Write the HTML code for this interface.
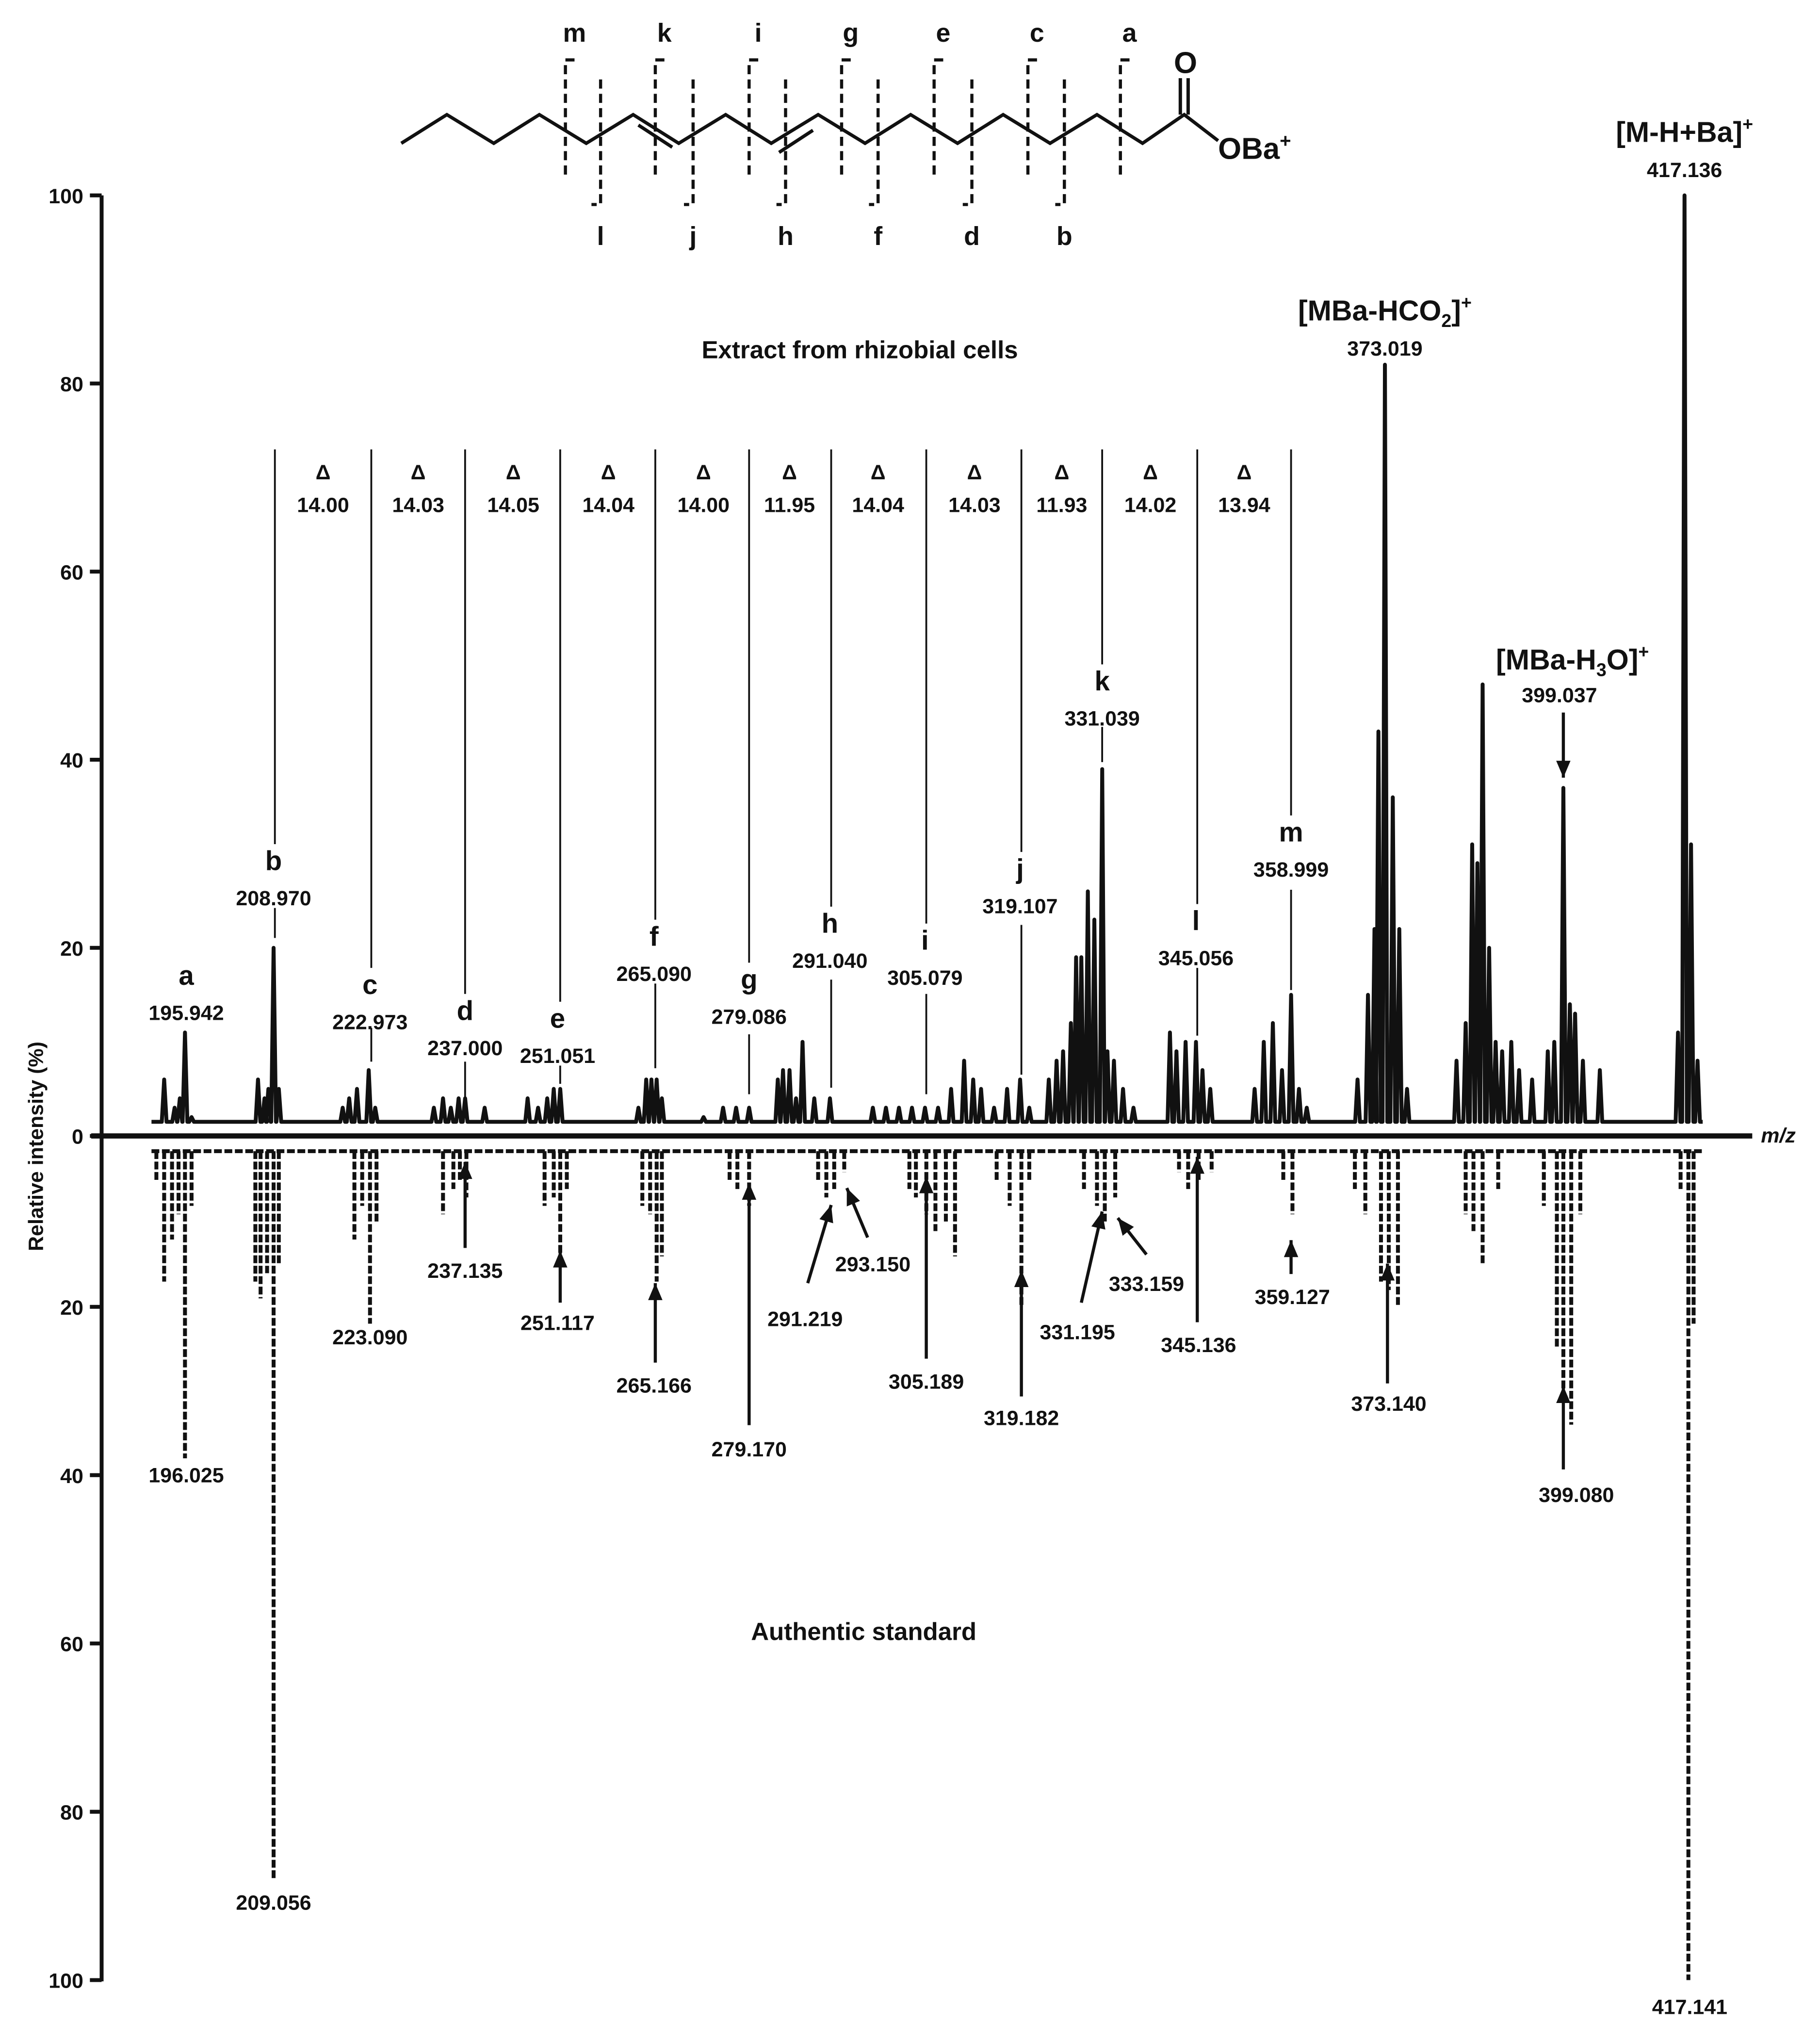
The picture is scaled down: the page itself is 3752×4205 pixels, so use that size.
<!DOCTYPE html>
<html><head><meta charset="utf-8"><style>
html,body{margin:0;padding:0;background:#fff}
svg{display:block}
text{font-family:"Liberation Sans",Arial,sans-serif;font-weight:bold;fill:#111}
</style></head><body>
<svg id="chart" xmlns="http://www.w3.org/2000/svg" width="3752" height="4205" viewBox="0 0 1397 1566" preserveAspectRatio="none">
<g id="structure" stroke="#111" fill="none" stroke-width="2.6">
<polyline points="308,110 343,88 379,110 414,88 450,110 486,88 521,110 557,88 592,110 628,88 664,110 699,88 735,110 770,88 806,110 842,88 877,110 909,88 935,108"/>
<line x1="490" y1="96" x2="516" y2="113"/>
<line x1="598" y1="117" x2="624" y2="100"/>
<line x1="906" y1="88" x2="906" y2="60"/>
<line x1="912" y1="88" x2="912" y2="60"/>
</g>
<text x="910" y="56" font-size="23" text-anchor="middle">O</text>
<text x="935" y="122" font-size="23">OBa<tspan font-size="15" dy="-9">+</tspan></text>
<g id="cleave"></g>

<g id="axes"></g>
<g id="topTrace"></g>
<g id="botTrace"></g>
<g id="ann"></g>

<text transform="translate(33,880) rotate(-90)" font-size="16" text-anchor="middle">Relative intensity (%)</text>
<text x="1365" y="877" font-size="16" font-style="italic" text-anchor="middle">m/z</text>
<text x="660" y="275" font-size="19" text-anchor="middle">Extract from rhizobial cells</text>
<text x="663" y="1259" font-size="19" text-anchor="middle">Authentic standard</text>
<text x="1063" y="246" font-size="22" text-anchor="middle">[MBa-HCO<tspan font-size="14" dy="5">2</tspan><tspan dy="-5">]</tspan><tspan font-size="14" dy="-9">+</tspan></text>
<text x="1207" y="514" font-size="22" text-anchor="middle">[MBa-H<tspan font-size="14" dy="5">3</tspan><tspan dy="-5">O]</tspan><tspan font-size="14" dy="-9">+</tspan></text>
<text x="1293" y="109" font-size="22" text-anchor="middle">[M-H+Ba]<tspan font-size="14" dy="-9">+</tspan></text>
</svg>
<script>
const topMz=[192.87,194.41,195.18,195.94,196.91,206.71,207.67,208.24,209.01,209.78,219.20,220.16,221.31,223.04,224.00,232.65,234.00,235.15,236.30,237.26,240.14,246.48,248.02,249.37,250.33,251.29,262.82,263.97,264.74,265.51,266.28,272.43,275.31,277.23,279.15,283.38,284.15,285.11,286.07,287.03,288.76,291.07,297.40,299.33,301.25,303.17,305.09,307.02,308.94,310.86,312.20,313.36,315.28,317.20,319.12,320.47,323.35,324.50,325.46,326.61,327.38,328.15,329.11,330.07,331.23,332.00,332.96,334.30,335.84,341.22,342.18,343.53,345.06,346.02,347.17,353.71,355.06,356.40,357.75,359.09,360.25,361.40,368.89,370.43,371.39,371.97,372.93,374.09,375.05,376.19,383.49,384.84,385.80,386.57,387.34,388.30,389.26,390.22,391.57,392.72,394.64,396.95,397.91,399.25,400.21,400.98,402.13,404.63,416.16,417.12,418.08,419.04];
const topInt=[6,3,4,11,2,6,4,5,20,5,3,4,5,7,3,3,4,3,4,4,3,4,3,4,5,5,3,6,6,6,4,2,3,3,3,6,7,7,4,10,4,4,3,3,3,3,3,3,5,8,6,5,3,5,6,3,6,8,9,12,19,19,26,23,39,9,8,5,3,11,9,10,10,7,5,5,10,12,7,15,5,3,6,15,22,43,82,36,22,5,8,12,31,29,48,20,10,9,10,7,6,9,10,37,14,13,8,7,11,100,31,8];
const botMz=[191.72,192.87,194.03,194.99,195.94,196.91,206.32,207.09,208.05,209.01,209.78,220.93,222.08,223.23,224.19,234.00,235.53,236.49,237.45,248.98,250.33,251.29,252.26,263.40,264.55,265.51,266.28,276.27,277.42,279.15,289.33,290.54,291.70,293.18,302.79,303.75,305.29,306.63,308.17,309.52,315.66,317.58,319.31,320.47,328.54,330.46,331.61,333.15,342.56,343.91,345.45,347.37,357.94,359.29,368.50,370.04,372.35,373.50,374.85,384.84,385.99,387.34,389.64,396.37,398.29,399.25,400.41,401.75,416.54,417.69,418.46];
const botInt=[5,17,12,9,38,8,17,19,16,88,15,12,8,22,10,9,6,5,7,8,7,14,6,8,9,17,14,5,6,8,5,7,6,4,6,7,9,11,10,14,5,8,20,5,6,8,10,7,4,6,5,4,5,9,6,9,17,18,20,9,11,15,6,8,25,31,34,9,6,100,22];
const yTickLabels=["100","80","60","40","20","0"];
const yTickVals=[100,80,60,40,20,0];
const botTickVals=[20,40,60,80,100];

const NS="http://www.w3.org/2000/svg";
const X=mz=>142+(mz-195.942)*5.204;
const YT=v=>872-7.22*v;
const YB=v=>874+6.46*v;
function mk(parent,tag,attrs){const e=document.createElementNS(NS,tag);for(const k in attrs)e.setAttribute(k,attrs[k]);parent.appendChild(e);return e;}

const ax=document.getElementById('axes');
let e=mk(ax,'line',{x1:78,y1:150,x2:78,y2:1521,stroke:'#111','stroke-width':3});

e=mk(ax,'line',{x1:70,y1:872,x2:1345,y2:872,stroke:'#111','stroke-width':4});

yTickVals.forEach((v,i)=>{
  const y=YT(v);
  let t=mk(ax,'line',{x1:69,y1:y,x2:78,y2:y,stroke:'#111','stroke-width':3});
  
  let l=mk(ax,'text',{x:64,y:y+6,'font-size':16,'text-anchor':'end'});l.textContent=yTickLabels[i];
  
});
botTickVals.forEach(v=>{
  const y=YB(v);
  let t=mk(ax,'line',{x1:69,y1:y,x2:78,y2:y,stroke:'#111','stroke-width':3});
  
  let l=mk(ax,'text',{x:64,y:y+6,'font-size':16,'text-anchor':'end'});l.textContent=String(v);
  
});

const base=1.5;
let d='M'+X(191)+','+YT(base);
const order=topMz.map((m,i)=>i).sort((a,b)=>topMz[a]-topMz[b]);
order.forEach(i=>{const m=topMz[i];d+=' L'+X(m-0.35)+','+YT(base)+' L'+X(m)+','+YT(topInt[i])+' L'+X(m+0.35)+','+YT(base);});
d+=' L'+X(419.8)+','+YT(base);
e=mk(document.getElementById('topTrace'),'path',{d:d,fill:'none',stroke:'#111','stroke-width':3,'stroke-linejoin':'round'});


const bt=document.getElementById('botTrace');
e=mk(bt,'line',{x1:X(191),y1:YB(1.5),x2:X(419.8),y2:YB(1.5),stroke:'#111','stroke-width':3,'stroke-dasharray':'6,2'});

botMz.forEach((m,i)=>{
  let p=mk(bt,'line',{x1:X(m),y1:YB(1.5),x2:X(m),y2:YB(botInt[i]),stroke:'#111','stroke-width':3,'stroke-dasharray':'6,2'});
  
});

const cl=document.getElementById('cleave');
[[434,'m'],[503,'k'],[575,'i'],[646,'g'],[717,'e'],[789,'c'],[860,'a']].forEach(([x,s])=>{
  let l=mk(cl,'path',{d:`M${x+7},46 L${x},46 L${x},138`,stroke:'#111',fill:'none','stroke-width':2.4,'stroke-dasharray':'7,4'});
  
  let t=mk(cl,'text',{x:x+7,y:32,'font-size':20,'text-anchor':'middle'});t.textContent=s;
  
});
[[461,'l'],[532,'j'],[603,'h'],[674,'f'],[746,'d'],[817,'b']].forEach(([x,s])=>{
  let l=mk(cl,'path',{d:`M${x},61 L${x},157 L${x-7},157`,stroke:'#111',fill:'none','stroke-width':2.4,'stroke-dasharray':'7,4'});
  
  let t=mk(cl,'text',{x:x,y:188,'font-size':20,'text-anchor':'middle'});t.textContent=s;
  
});

const an=document.getElementById('ann');
function txt(x,y,s,fs,name){let t=mk(an,'text',{x:x,y:y,'font-size':fs,'text-anchor':'middle'});t.textContent=s;}
function ln(x1,y1,x2,y2,w,name){let l=mk(an,'line',{x1,y1,x2,y2,stroke:'#111','stroke-width':w});}
function arrow(x1,y1,x2,y2,name){ln(x1,y1,x2,y2,2.4,name);const a=Math.atan2(y2-y1,x2-x1),L=13,W=5.5;
  const p=mk(an,'polygon',{points:`${x2},${y2} ${x2-L*Math.cos(a)+W*Math.sin(a)},${y2-L*Math.sin(a)-W*Math.cos(a)} ${x2-L*Math.cos(a)-W*Math.sin(a)},${y2-L*Math.sin(a)+W*Math.cos(a)}`,fill:'#111'});
  }
const topLab=[['a','195.942',143,750,null],['b','208.970',210,662,211],['c','222.973',284,757,285],['d','237.000',357,777,357],['e','251.051',428,783,430],['f','265.090',502,720,503],['g','279.086',575,753,575],['h','291.040',637,710,638],['i','305.079',710,723,711],['j','319.107',783,668,784],['k','331.039',846,524,846],['l','345.056',918,708,919],['m','358.999',991,640,991]];
topLab.forEach(([s,v,x,y,lx])=>{
  txt(x,y+6,s,21,'peak-letter-'+s);txt(x,y+33,v,16,'peak-value-'+s);
  if(lx!==null){ln(lx,345,lx,y-14,1.4,'delta-guide-line');}
});
[[211,697,720],[285,789,815],[357,815,842],[430,818,832],[503,755,820],[575,794,840],[638,752,835],[711,763,840],[784,710,825],[846,558,585],[919,743,795],[991,683,760]].forEach(([x,a,b])=>ln(x,a,x,b,1.4,'peak-connector'));
const deltaX=[248,321,394,467,540,606,674,748,815,883,955];
const deltaV=['14.00','14.03','14.05','14.04','14.00','11.95','14.04','14.03','11.93','14.02','13.94'];
deltaX.forEach((x,i)=>{txt(x,368,'Δ',16,'delta-symbol');txt(x,393,deltaV[i],16,'delta-value');});
txt(1063,273,'373.019',16,'mba-hco2-value');
txt(1197,539,'399.037',16,'mba-h2o-value');
arrow(1200,547,1200,597,'mba-h2o-arrow');
txt(1293,136,'417.136',16,'m-h-ba-value');
txt(143,1138,'196.025',16,'std-value-196');
txt(210,1466,'209.056',16,'std-value-209');
txt(284,1032,'223.090',16,'std-value-223');
txt(357,981,'237.135',16,'std-value-237');arrow(357,958,357,892,'arrow-237');
txt(428,1021,'251.117',16,'std-value-251');arrow(430,1000,430,960,'arrow-251');
txt(502,1069,'265.166',16,'std-value-265');arrow(503,1046,503,985,'arrow-265');
txt(575,1118,'279.170',16,'std-value-279');arrow(575,1094,575,908,'arrow-279');
txt(618,1018,'291.219',16,'std-value-291');arrow(620,985,638,925,'arrow-291');
txt(670,976,'293.150',16,'std-value-293');arrow(666,950,650,912,'arrow-293');
txt(711,1066,'305.189',16,'std-value-305');arrow(711,1043,711,903,'arrow-305');
txt(784,1094,'319.182',16,'std-value-319');arrow(784,1072,784,975,'arrow-319');
txt(827,1028,'331.195',16,'std-value-331');arrow(830,1000,846,930,'arrow-331');
txt(880,991,'333.159',16,'std-value-333');arrow(880,963,858,935,'arrow-333');
txt(920,1038,'345.136',16,'std-value-345');arrow(919,1015,919,888,'arrow-345');
txt(992,1001,'359.127',16,'std-value-359');arrow(991,978,991,952,'arrow-359');
txt(1066,1083,'373.140',16,'std-value-373');arrow(1065,1062,1065,970,'arrow-373');
txt(1210,1153,'399.080',16,'std-value-399');arrow(1200,1128,1200,1064,'arrow-399');
txt(1297,1546,'417.141',16,'std-value-417');
</script>
</body></html>
